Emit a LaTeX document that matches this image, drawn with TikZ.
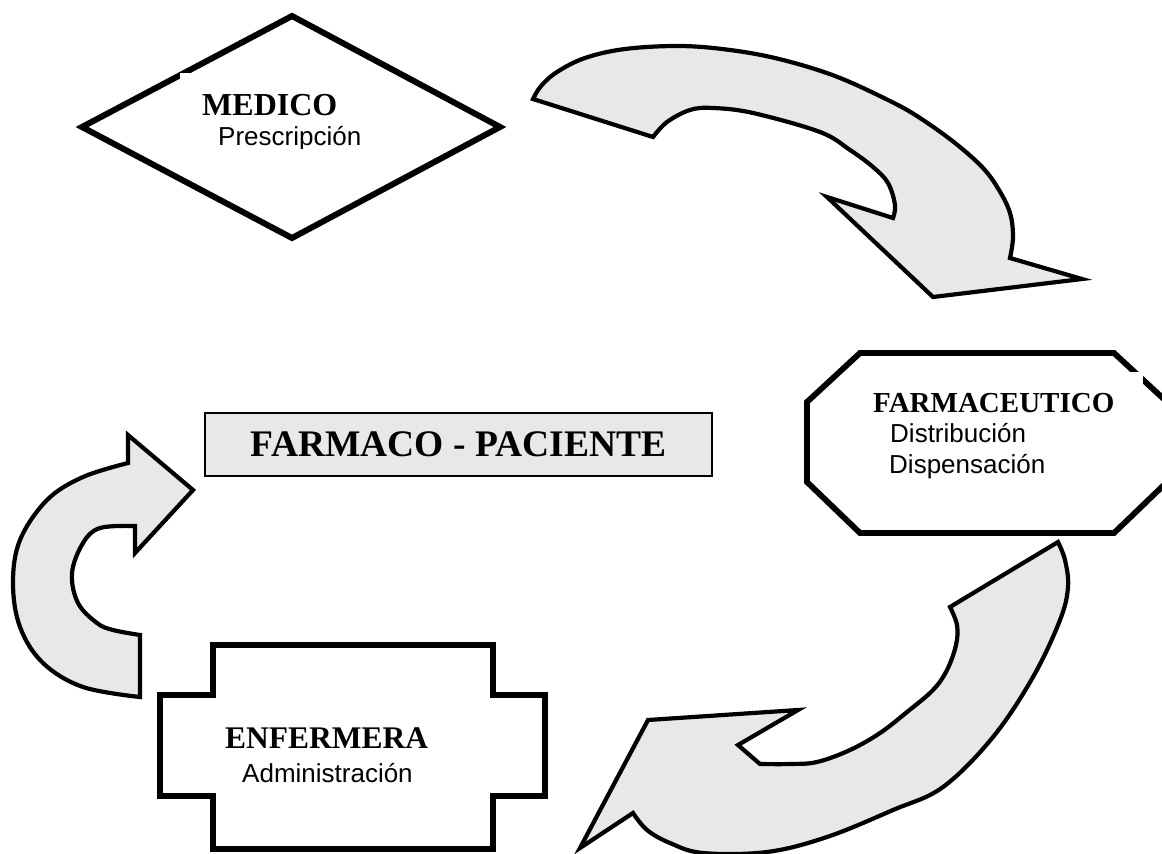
\documentclass[tikz,border=0pt]{standalone}
\usepackage{fontspec}
\setmainfont{Liberation Serif}
\newfontfamily\arialf{Liberation Sans}
\definecolor{arrowgray}{HTML}{E8E8E8}
\begin{document}
\begin{tikzpicture}[x=1pt,y=-1pt,
  bigarrow/.style={draw=black, fill=arrowgray, line width=4.2pt, line join=miter},
  thickshape/.style={draw=black, fill=white, line width=6pt, line join=miter},
  titletext/.style={anchor=base west, inner sep=0pt, font=\bfseries\fontsize{32}{38}\selectfont},
  subtext/.style={anchor=base west, inner sep=0pt, font=\arialf\fontsize{26}{31}\selectfont},
  coverbox/.style={fill=white, draw=none}
]
\useasboundingbox (0,0) rectangle (1162,854);
\fill[white] (0,0) rectangle (1162,854);
\begin{scope}
\clip (0,0) rectangle (1162,854);
% MEDICO diamond
\draw[thickshape] (292,16) -- (500,127) -- (292,238) -- (82,127) -- cycle;
% FARMACEUTICO octagon
\draw[thickshape, line width=5.8pt] (860,353) -- (1114,353) -- (1167,402) -- (1167,482) -- (1114,533) -- (860,533) -- (807,482) -- (807,402) -- cycle;
% ENFERMERA shape
\draw[thickshape, line width=6.5pt] (213,645) -- (493,645) -- (493,695) -- (545,695) -- (545,796) -- (493,796) -- (493,849) -- (213,849) -- (213,796) -- (160,796) -- (160,695) -- (213,695) -- cycle;
% top arrow
\draw[bigarrow] (533,99) -- (653,137)
  -- plot[smooth,tension=0.6] coordinates {(653,137) (667,122) (690,110) (713,108) (753,113) (820,132) (850,150) (873,167) (888,183) (895,205) (893,218)}
  -- (827,197) -- (933,297) -- (1082,279) -- (1010,258)
  -- plot[smooth,tension=0.6] coordinates {(1010,258) (1013,237) (1010,213) (999,190) (983,168) (955,143) (920,118) (890,101) (835,76) (779,59) (730,50) (680,46) (625,49) (585,58) (557,72) (541,86) (533,99)}
  -- cycle;
% bottom arrow
\draw[bigarrow] (1058,542) -- (950,607)
  -- plot[smooth,tension=0.6] coordinates {(950,607) (957,625) (956,645) (947,670) (933,690) (907,712) (880,733) (850,750) (817,762) (790,764) (760,764)}
  -- (738,745) -- (798,710) -- (648,720) -- (580,848) -- (633,813)
  -- plot[smooth,tension=0.6] coordinates {(633,813) (647,830) (670,843) (703,853) (767,852) (827,837) (893,810) (943,787) (993,737) (1033,677) (1060,620) (1068,587) (1065,560) (1058,542)}
  -- cycle;
% left arrow
\draw[bigarrow] (140,697) -- (140,635)
  -- plot[smooth,tension=0.6] coordinates {(140,635) (113,630) (97,623) (78,603) (72,573) (83,543) (100,528) (135,526)}
  -- (135,553) -- (193,490) -- (128,435) -- (128,463)
  -- plot[smooth,tension=0.6] coordinates {(128,463) (83,477) (47,500) (20,540) (13,583) (20,627) (43,663) (83,687) (140,697)}
  -- cycle;
\end{scope}
% FARMACO - PACIENTE box
\node[draw=black, line width=1.5pt, fill=arrowgray, minimum width=507pt, minimum height=63pt, inner sep=0pt] (fpbox) at (458.5,444.5) {};
\node[font=\bfseries\fontsize{37.5}{44}\selectfont, inner sep=0pt] (fp) at (458.5,444.5) {FARMACO - PACIENTE};
% MEDICO text
\fill[coverbox] (180,73) rectangle (385,148);
\begin{scope}
\clip (180,73) rectangle (385,148);
\node[titletext] (medico) at (202,115) {MEDICO};
\node[subtext] (prescripcion) at (218,145) {Prescripción};
\end{scope}
% FARMACEUTICO text
\fill[coverbox] (865,372) rectangle (1143,500);
\node[titletext, font=\bfseries\fontsize{29}{35}\selectfont] (farmaceutico) at (873,412) {FARMACEUTICO};
\node[subtext] (distribucion) at (890,442) {Distribución};
\node[subtext] (dispensacion) at (889,473) {Dispensación};
% ENFERMERA text
\node[titletext, font=\bfseries\fontsize{31.5}{37}\selectfont] (enfermera) at (225,748) {ENFERMERA};
\node[subtext] (administracion) at (242,782) {Administración};
\end{tikzpicture}
\end{document}
